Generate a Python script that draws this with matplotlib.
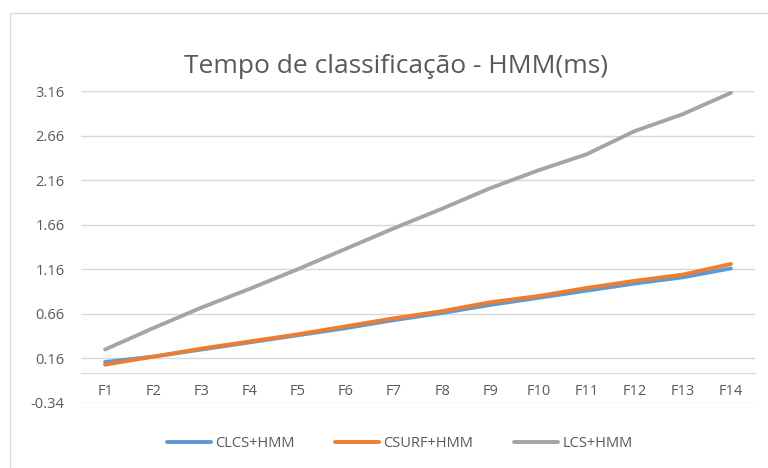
import matplotlib.pyplot as plt
from matplotlib.patches import Rectangle

# Data
categories = ['F%d' % i for i in range(1, 15)]
clcs_hmm = [0.12, 0.18, 0.26, 0.34, 0.42, 0.50, 0.59, 0.67, 0.76, 0.84, 0.92, 1.00, 1.07, 1.17]
csurf_hmm = [0.09, 0.18, 0.27, 0.35, 0.43, 0.52, 0.61, 0.69, 0.79, 0.86, 0.95, 1.03, 1.10, 1.22]
lcs_hmm = [0.26, 0.50, 0.73, 0.94, 1.16, 1.39, 1.62, 1.84, 2.07, 2.27, 2.45, 2.71, 2.90, 3.14]
y_ticks = [-0.34, 0.16, 0.66, 1.16, 1.66, 2.16, 2.66, 3.16]

plt.rcParams['font.family'] = ['Open Sans', 'DejaVu Sans']

fig = plt.figure(figsize=(7.68, 4.68), dpi=100)
ax = fig.add_axes([81 / 768, 1 - 403 / 468, (755 - 81) / 768, (403 - 91) / 468])

x = range(len(categories))
ax.plot(x, clcs_hmm, color='#5b9bd5', lw=2.8, label='CLCS+HMM', solid_capstyle='round')
ax.plot(x, csurf_hmm, color='#ed7d31', lw=2.8, label='CSURF+HMM', solid_capstyle='round')
ax.plot(x, lcs_hmm, color='#a5a5a5', lw=2.8, label='LCS+HMM', solid_capstyle='round')

ax.set_xlim(-0.5, len(categories) - 0.5)
ax.set_ylim(-0.34, 3.16)
ax.set_yticks(y_ticks)
ax.set_yticklabels(['%.2f' % v for v in y_ticks])
ax.set_xticks(list(x))
ax.set_xticklabels(categories)

ax.grid(axis='y', color='#d9d9d9', lw=1)
ax.set_axisbelow(True)
for side in ['top', 'right', 'left']:
    ax.spines[side].set_visible(False)
ax.spines['bottom'].set_position(('data', 0))
ax.spines['bottom'].set_color('#d9d9d9')
ax.tick_params(axis='both', length=0, labelsize=10.5, colors='#595959')
ax.tick_params(axis='x', pad=8)
ax.tick_params(axis='y', pad=12)

ax.set_title('Tempo de classificação - HMM(ms)', fontsize=19, color='#595959',
             x=0.467, pad=13)

ax.legend(loc='center', bbox_to_anchor=(0.473, -0.13), ncol=3, frameon=False,
          fontsize=10.5, labelcolor='#595959', handlelength=3.0, columnspacing=2.8,
          handletextpad=0.3)

# chart border
fig.patches.append(Rectangle((10 / 768, -0.1), 1.0, 1 - 13 / 468 + 0.1,
                             transform=fig.transFigure, fill=False,
                             edgecolor='#d9d9d9', lw=1))

fig.savefig('out.png', dpi=100)
